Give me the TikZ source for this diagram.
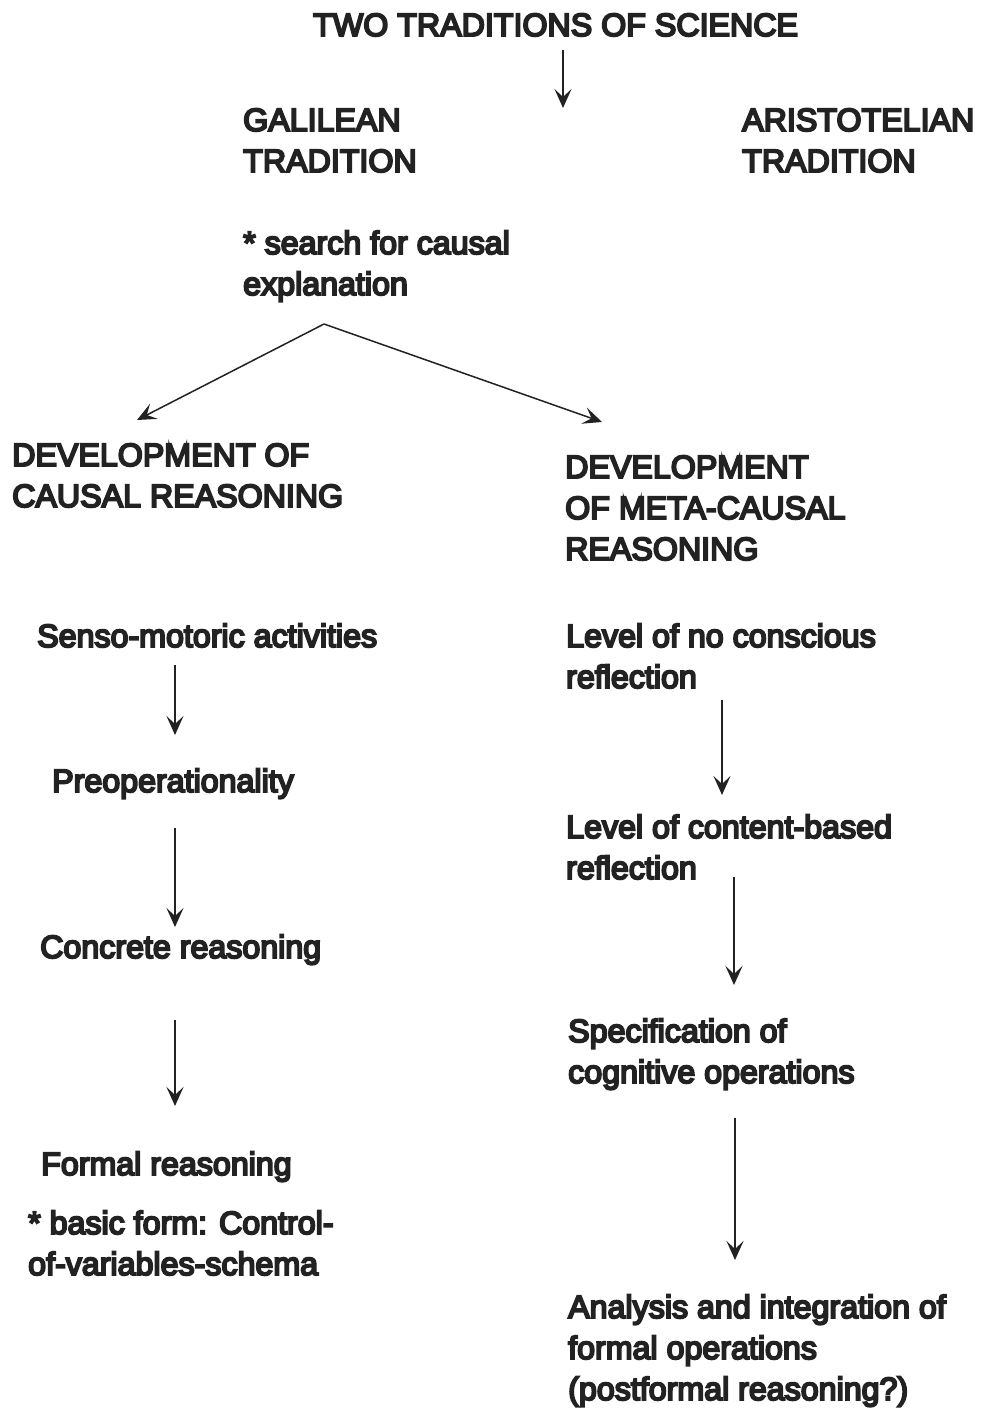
\documentclass[tikz,border=0pt]{standalone}
\usepackage{fontspec}
\setmainfont{Liberation Sans}[FakeBold=6]
\usetikzlibrary{arrows.meta}
\definecolor{ink}{HTML}{222222}
\begin{document}
\begin{tikzpicture}[x=1pt,y=1pt,
  txt/.style={anchor=base west,inner sep=0pt,align=left,text=ink,
    font=\fontsize{32.2}{41}\selectfont},
  arr/.style={draw=ink,line width=1.5pt,-{Stealth[length=19pt,width=17pt,inset=8pt]}}]
\useasboundingbox[fill=white] (0,0) rectangle (982,-1412);
\node[txt] (title) at (313,-36) {TWO TRADITIONS OF SCIENCE};
\node[txt] (gal) at (243,-172) {GALILEAN\\TRADITION};
\node[txt] (ari) at (742,-172) {ARISTOTELIAN\\TRADITION};
\node[txt] (search) at (243,-295) {* search for causal\\explanation};
\node[txt] (dcr) at (12,-507) {DEVELOPMENT OF\\CAUSAL REASONING};
\node[txt] (dmr) at (565,-560) {DEVELOPMENT\\OF META-CAUSAL\\REASONING};
\node[txt] (s1) at (37,-647) {Senso-motoric activities};
\node[txt] (s2) at (52,-792) {Preoperationality};
\node[txt] (s3) at (40,-958) {Concrete reasoning};
\node[txt] (s4) at (41,-1175) {Formal reasoning};
\node[txt] (basic) at (28,-1275) {* basic form: Control-\\of-variables-schema};
\node[txt] (r1) at (566,-688) {Level of no conscious\\reflection};
\node[txt] (r2) at (566,-879) {Level of content-based\\reflection};
\node[txt] (r3) at (568,-1083) {Specification of\\cognitive operations};
\node[txt] (r4) at (568,-1400) {Analysis and integration of\\formal operations\\(postformal reasoning?)};
% arrows
\draw[arr] ([shift={(250,-14)}]title.base west) -- ([shift={(320,64)}]gal.base west);
\coordinate (apex) at ([shift={(81,-29)}]search.base west);
\draw[arr] (apex) -- ([shift={(125,87)}]dcr.base west);
\draw[arr] (apex) -- ([shift={(37,138)}]dmr.base west);
\draw[arr] ([shift={(138,-18)}]s1.base west) -- ([shift={(123,57)}]s2.base west);
\draw[arr] ([shift={(123,-36)}]s2.base west) -- ([shift={(135,31)}]s3.base west);
\draw[arr] ([shift={(135,-62)}]s3.base west) -- ([shift={(134,69)}]s4.base west);
\draw[arr] ([shift={(156,-12)}]r1.base west) -- ([shift={(156,84)}]r2.base west);
\draw[arr] ([shift={(168,2)}]r2.base west) -- ([shift={(166,98)}]r3.base west);
\draw[arr] ([shift={(167,-35)}]r3.base west) -- ([shift={(167,140)}]r4.base west);
\end{tikzpicture}
\end{document}
